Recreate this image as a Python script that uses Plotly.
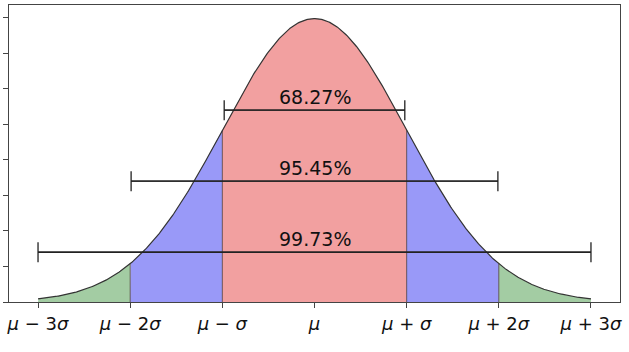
import numpy as np
import plotly.graph_objects as go

mu = 0.0
sigma = 1.0
region_bounds = [(-3, -2), (-2, -1), (-1, 1), (1, 2), (2, 3)]
region_colors = ["#a3cca3", "#9999f8", "#f2a0a0", "#9999f8", "#a3cca3"]
bar_labels = ["68.27%", "95.45%", "99.73%"]
bar_half_widths = [0.98, 1.99, 3.0]
bar_heights = [0.27, 0.17, 0.07]
tick_vals = [-3, -2, -1, 0, 1, 2, 3]
tick_text = ["<i>μ</i> − 3<i>σ</i>", "<i>μ</i> − 2<i>σ</i>", "<i>μ</i> − <i>σ</i>", "<i>μ</i>",
             "<i>μ</i> + <i>σ</i>", "<i>μ</i> + 2<i>σ</i>", "<i>μ</i> + 3<i>σ</i>"]
y_ticks = [0, 0.05, 0.1, 0.15, 0.2, 0.25, 0.3, 0.35, 0.4]


def pdf(x):
    return np.exp(-0.5 * ((x - mu) / sigma) ** 2) / (sigma * np.sqrt(2 * np.pi))


fig = go.Figure()
for (a, b), c in zip(region_bounds, region_colors):
    xs = np.linspace(a, b, 200)
    ys = pdf(xs)
    fig.add_trace(go.Scatter(x=np.concatenate([[a], xs, [b]]), y=np.concatenate([[0], ys, [0]]),
                             fill="toself", fillcolor=c, mode="lines",
                             line=dict(width=0), hoverinfo="skip", showlegend=False))

# boundary lines
for b in [-2, -1, 1, 2]:
    fig.add_trace(go.Scatter(x=[b, b], y=[0, pdf(b)], mode="lines",
                             line=dict(color="rgba(60,40,40,0.7)", width=1), showlegend=False))

xs = np.linspace(-3, 3, 600)
fig.add_trace(go.Scatter(x=xs, y=pdf(xs), mode="lines",
                         line=dict(color="#333333", width=1.2), showlegend=False))

for lab, hw, h in zip(bar_labels, bar_half_widths, bar_heights):
    fig.add_trace(go.Scatter(x=[mu], y=[h], mode="markers", marker=dict(size=1, opacity=0),
                             error_x=dict(type="data", array=[hw], arrayminus=[hw], symmetric=False,
                                          color="#222222", thickness=1.3, width=10),
                             showlegend=False))
    fig.add_trace(go.Scatter(x=[-hw, hw], y=[h, h], mode="lines",
                             line=dict(color="#222222", width=1.3), showlegend=False))
    fig.add_annotation(x=mu, y=h, text=lab, showarrow=False, yanchor="bottom", yshift=0,
                       font=dict(family="DejaVu Sans", size=19, color="#111111"))

fig.update_layout(
    width=629, height=352,
    margin=dict(l=9, r=9, t=5, b=50),
    paper_bgcolor="white", plot_bgcolor="white",
    font=dict(family="DejaVu Sans", size=18, color="#111111"),
)
fig.update_xaxes(range=[-3.315, 3.315], tickvals=tick_vals, ticktext=tick_text,
                 ticks="outside", ticklen=5, tickcolor="#444", showgrid=False, zeroline=False,
                 showline=True, linecolor="#444", linewidth=1.3, mirror=True,
                 tickfont=dict(family="DejaVu Sans", size=18))
fig.update_yaxes(range=[0, 0.418], tickvals=y_ticks, showticklabels=False,
                 ticks="outside", ticklen=5, tickcolor="#444", showgrid=False, zeroline=False,
                 showline=True, linecolor="#444", linewidth=1.3, mirror=True)

fig.write_html("out.html")
